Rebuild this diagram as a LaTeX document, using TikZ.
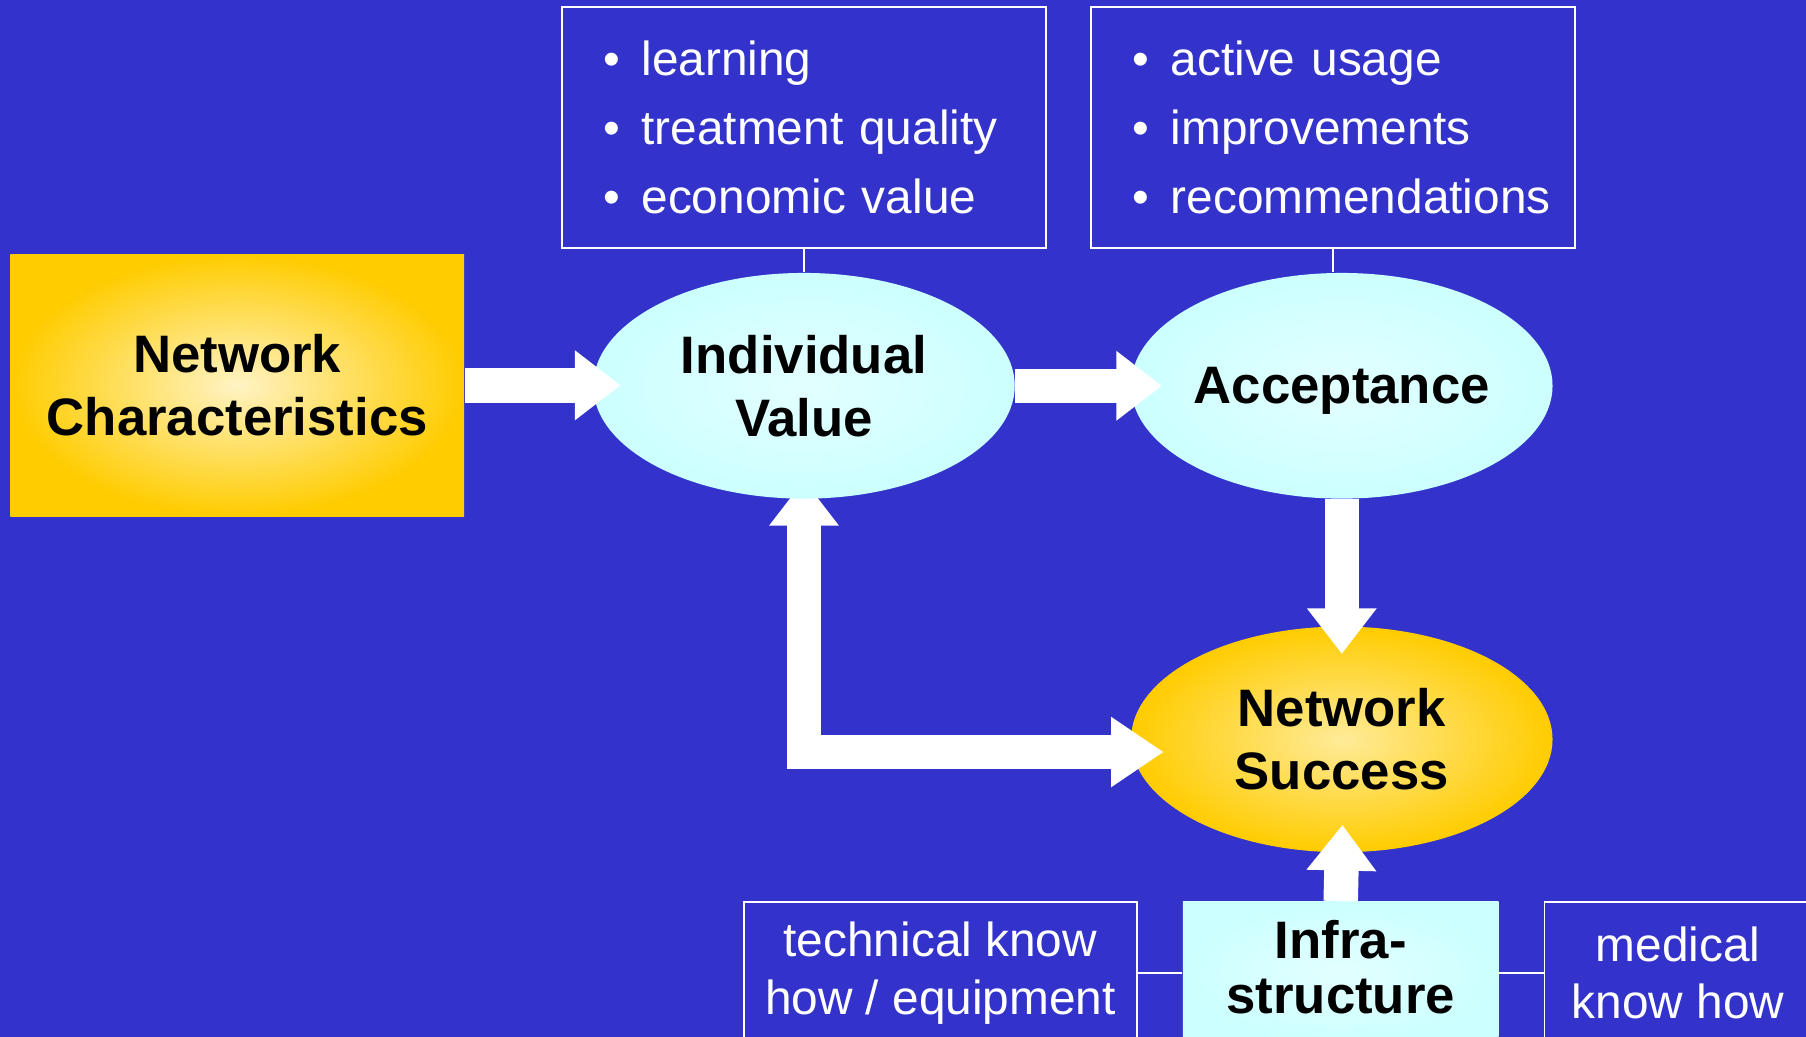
\documentclass[tikz,border=0pt]{standalone}
\usepackage{fontspec}
\setmainfont{Liberation Sans}
\usepackage{xcolor}
\usepackage{tikz}
\usetikzlibrary{shapes.geometric}
\usetikzlibrary{arrows.meta}
\definecolor{slideblue}{RGB}{51,51,204}
\definecolor{ice}{RGB}{204,255,255}
\definecolor{gold}{RGB}{255,204,0}
\definecolor{pale}{RGB}{255,243,196}
\newcommand{\itm}{\textbullet\hspace{6pt}}
\pgfdeclarelayer{back}
\pgfdeclarelayer{under}
\pgfsetlayers{back,under,main}

\begin{document}
\begin{tikzpicture}[oval/.style={ellipse, minimum width=4.215cm, minimum height=2.257cm, inner sep=0pt, align=center, font=\bfseries\fontsize{15}{18}\selectfont},
        infobox/.style={draw=white, line width=0.5pt, text=white, inner sep=0pt},
        lowbox/.style={infobox, minimum height=1.428cm, align=center, font=\fontsize{13.6}{16.3}\selectfont},
        flow/.style={white, line width=9.8pt, -{Triangle[length=13pt, width=19pt]}, shorten >=-8pt},
        link/.style={white, line width=0.5pt}]
        \useasboundingbox (0, 0) rectangle (18.06, 10.366);
        \begin{pgfonlayer}{back}
            \fill[slideblue] (0, 0) rectangle (18.06, 10.366);
        \end{pgfonlayer}
        \node[inner color=pale, outer color=gold, minimum width=4.538cm, minimum height=2.615cm, align=center, font=\bfseries\fontsize{15}{18}\selectfont] (nc) at (2.373, 6.513) {Network\\Characteristics};
        \node[oval, inner color=ice!55!white, outer color=ice] (iv) at (8.040, 6.508) {Individual\\Value};
        \node[oval, inner color=ice!55!white, outer color=ice, text depth=0pt] (acc) at (13.418, 6.508) {Acceptance};
        \foreach \name/\x/\items in {lst1/8.040/{learning, treatment quality, economic value}, lst2/13.332/{active usage, improvements, recommendations}}
            \node[infobox, minimum width=4.84cm, minimum height=2.407cm, text width=114pt, inner xsep=11.6pt, align=left, font=\fontsize{13.6}{19.6}\selectfont] (\name) at (\x, 9.093) {\foreach \t [count=\k] in \items {\ifnum\k>1 \\\fi\mbox{\itm\t}}};
        \node[lowbox, minimum width=3.928cm] (tech) at (9.404, 0.634) {technical know\\how / equipment};
        \node[lowbox, minimum width=2.672cm] (med) at (16.781, 0.634) {medical\\know how};
        \node[inner color=ice!55!white, outer color=ice, minimum width=3.156cm, minimum height=1.428cm, text depth=3.4pt, align=center, font=\bfseries\fontsize{15}{15.7}\selectfont] (infra) at (13.407, 0.634) {Infra-\\structure};
        \begin{pgfonlayer}{under}
            \node[oval, inner color=gold!40!white, outer color=gold] (ns) at (13.418, 2.972) {Network\\Success};
            \draw[flow, {Triangle[length=13pt, width=19pt]}-{Triangle[length=15pt, width=19pt]}, shorten <=-5.5pt, shorten >=-9.5pt] (iv.south) |- ([yshift=-3.6pt]ns.west);
        \end{pgfonlayer}
        \draw[link] (lst1.south) -- (iv.north);
        \draw[link] (lst2.south) -- (lst2.south |- acc.north);
        \draw[link] (tech.east) -- (infra.west);
        \draw[link] (infra.east) -- (med.west);
        \draw[flow] (nc.east) -- (nc.east -| iv.west);
        \draw[flow, shorten >=-9pt] (iv.east) -- (acc.west);
        \draw[flow] (acc.south) -- (ns.north);
        \draw[flow] (infra.north) -- (ns.south);
    \end{tikzpicture}
\end{document}
